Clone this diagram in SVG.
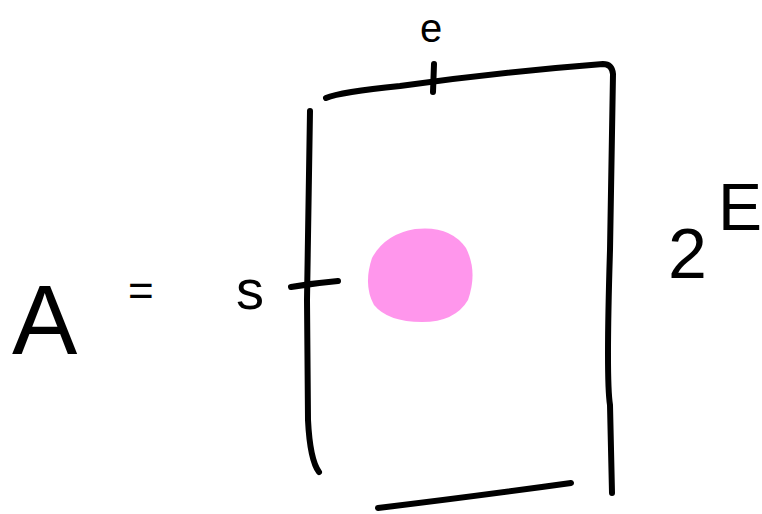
<svg xmlns="http://www.w3.org/2000/svg" width="762" height="514" viewBox="0 0 762 514">
<style>
.s{fill:none;stroke:#000;stroke-width:6;stroke-linecap:round;stroke-linejoin:round}
.t{font-family:"Liberation Sans",Arial,sans-serif;fill:#000}
</style>
<rect width="762" height="514" fill="#fff"/>
<g id="frame">
<path class="s" d="M326,98 Q340,92 400,86 Q500,72 603,64 Q612,64 613,74 L610,250 Q606,380 610,405 L612,493"/>
<path class="s" d="M310,111 Q308,250 307,300 L308,420 Q310,460 319,472"/>
<path class="s" d="M378,508 Q470,497 571,483"/>
</g>
<g id="ticks">
<path class="s" d="M434,64 L433,92"/>
<path class="s" d="M291,287 Q315,283 338,281"/>
</g>
<g id="dot">
<path fill="#ff96ec" d="M372,258 Q385,234 415,229 Q450,225 466,248 Q478,272 468,300 Q455,322 422,322 Q388,322 374,305 Q363,285 372,258 Z"/>
</g>
<g id="labels">
<text class="t" x="12" y="354" font-size="98">A</text>
<text class="t" x="128" y="306" font-size="44">=</text>
<text class="t" x="236" y="309" font-size="56">s</text>
<text class="t" x="420" y="42" font-size="40">e</text>
<text class="t" x="668" y="278" font-size="70">2</text>
<text class="t" x="718" y="230" font-size="66">E</text>
</g>
</svg>
